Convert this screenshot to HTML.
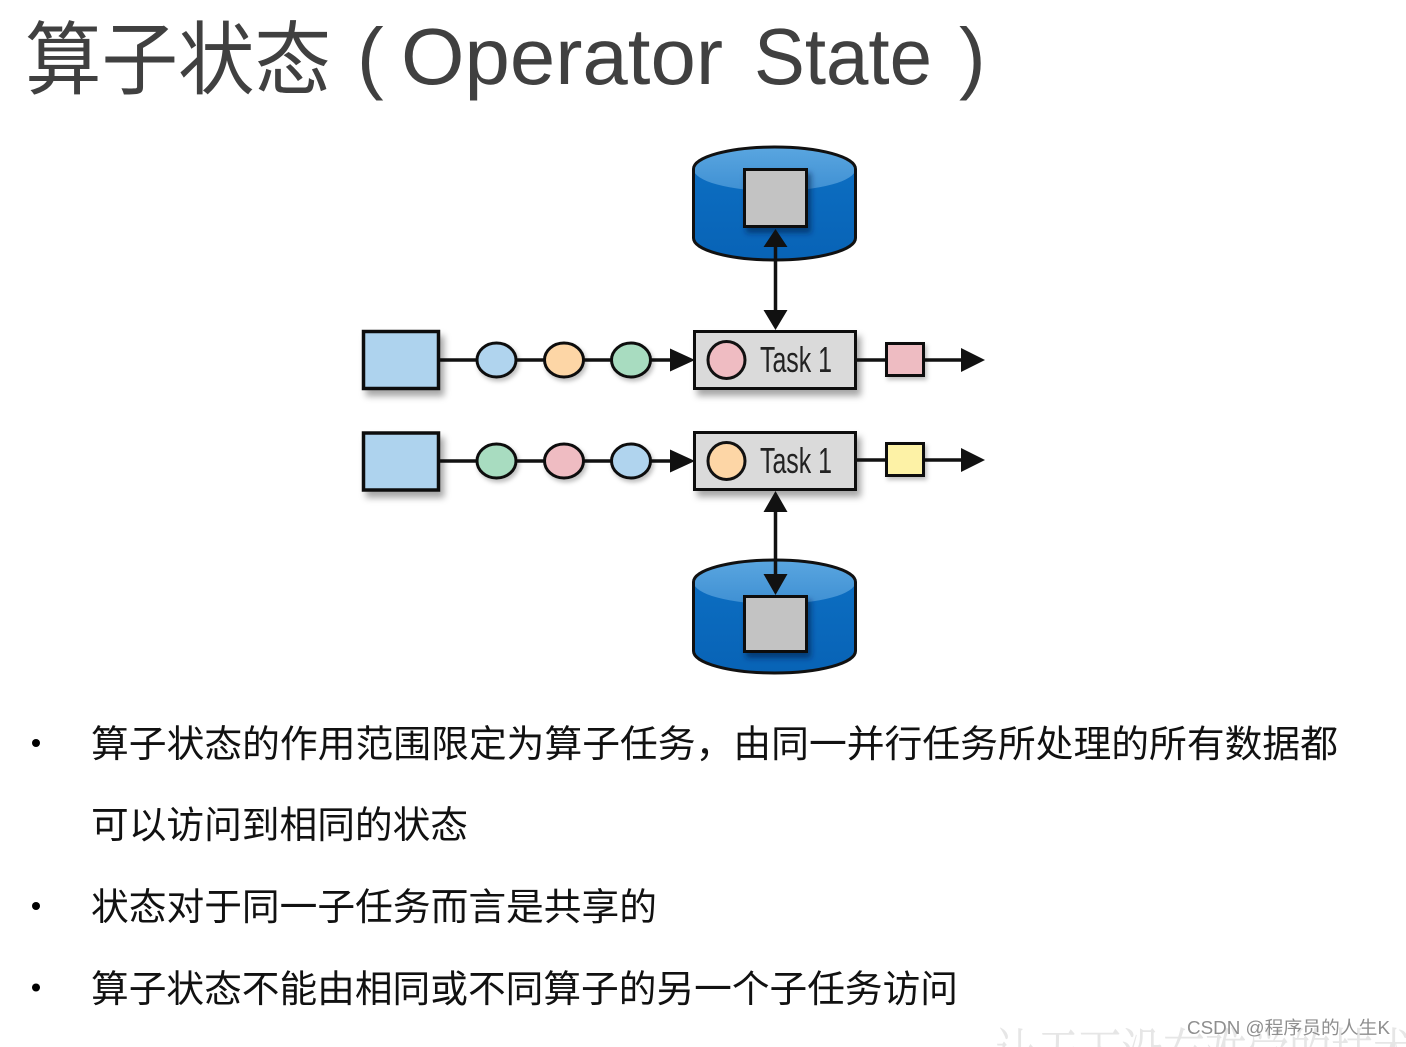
<!DOCTYPE html>
<html>
<head>
<meta charset="utf-8">
<style>
  html,body{margin:0;padding:0;background:#fff;}
  svg{display:block;}
  .cjk{font-family:"Liberation Sans","Noto Sans CJK SC",sans-serif;}
</style>
</head>
<body>
<svg width="1406" height="1047" viewBox="0 0 1406 1047" xmlns="http://www.w3.org/2000/svg">
  <defs>
    <filter id="sh" x="-30%" y="-30%" width="170%" height="180%">
      <feDropShadow dx="4" dy="6" stdDeviation="3.5" flood-color="#000" flood-opacity="0.35"/>
    </filter>
    <filter id="shs" x="-30%" y="-30%" width="170%" height="180%">
      <feDropShadow dx="2" dy="3" stdDeviation="2" flood-color="#000" flood-opacity="0.25"/>
    </filter>
    <filter id="shd" x="-30%" y="-30%" width="170%" height="180%">
      <feDropShadow dx="3" dy="5" stdDeviation="3" flood-color="#00214a" flood-opacity="0.6"/>
    </filter>
    <linearGradient id="cap" x1="0" y1="0" x2="0" y2="1">
      <stop offset="0" stop-color="#5aa6e0"/>
      <stop offset="1" stop-color="#3f90d3"/>
    </linearGradient>
    <linearGradient id="body" x1="0" y1="0" x2="0" y2="1">
      <stop offset="0" stop-color="#0d70c4"/>
      <stop offset="1" stop-color="#0863b6"/>
    </linearGradient>
  </defs>

  <!-- Title -->
  <g fill="#404040">
    <text class="cjk" x="25" y="88" font-size="80" textLength="306" lengthAdjust="spacingAndGlyphs">算子状态</text>
    <text x="357" y="84" font-family="Liberation Sans, sans-serif" font-size="80">(</text>
    <text x="401" y="84" font-family="Liberation Sans, sans-serif" font-size="80" textLength="322" lengthAdjust="spacingAndGlyphs">Operator</text>
    <text x="754" y="84" font-family="Liberation Sans, sans-serif" font-size="80" textLength="178" lengthAdjust="spacingAndGlyphs">State</text>
    <text x="959" y="84" font-family="Liberation Sans, sans-serif" font-size="80">)</text>
  </g>

  <!-- Top cylinder -->
  <g>
    <path d="M693.5,169 L693.5,238 A81,22 0 0 0 855.5,238 L855.5,169 A81,22 0 0 0 693.5,169 Z" fill="url(#body)"/>
    <ellipse cx="774.5" cy="169" rx="81" ry="22" fill="url(#cap)"/>
    <path d="M693.5,169 L693.5,238 A81,22 0 0 0 855.5,238 L855.5,169 A81,22 0 0 0 693.5,169 Z" fill="none" stroke="#111" stroke-width="3"/>
    <rect x="744.5" y="169.5" width="62" height="57" fill="#c3c3c3" stroke="#111" stroke-width="3" filter="url(#shd)"/>
  </g>
  <!-- top arrow -->
  <line x1="775.5" y1="245" x2="775.5" y2="312" stroke="#111" stroke-width="3.5"/>
  <polygon points="775.5,229 763.5,247 787.5,247" fill="#111"/>
  <polygon points="775.5,330 763.5,310 787.5,310" fill="#111"/>

  <!-- Row 1 -->
  <g>
    <line x1="440" y1="360" x2="675" y2="360" stroke="#111" stroke-width="3.5"/>
    <rect x="363.5" y="331.5" width="75" height="57" fill="#aed3ee" stroke="#111" stroke-width="3.5" filter="url(#sh)"/>
    <ellipse cx="496.5" cy="360" rx="19.5" ry="17" fill="#b0d4ee" stroke="#111" stroke-width="3" filter="url(#shs)"/>
    <ellipse cx="564" cy="360" rx="19.5" ry="17" fill="#fdd6a6" stroke="#111" stroke-width="3" filter="url(#shs)"/>
    <ellipse cx="631" cy="360" rx="19.5" ry="17" fill="#a8dcc0" stroke="#111" stroke-width="3" filter="url(#shs)"/>
    <polygon points="695,360 670,348.5 670,371.5" fill="#111"/>
    <rect x="694.5" y="331.5" width="161" height="57" fill="#dadada" stroke="#111" stroke-width="3" filter="url(#sh)"/>
    <circle cx="726.5" cy="360" r="18.5" fill="#efbcc2" stroke="#111" stroke-width="3"/>
    <text x="760" y="372" font-family="Liberation Sans Narrow, Liberation Sans, sans-serif" font-size="36" fill="#222" textLength="72" lengthAdjust="spacingAndGlyphs">Task 1</text>
    <line x1="855" y1="360" x2="965" y2="360" stroke="#111" stroke-width="3.5"/>
    <rect x="886.5" y="343.5" width="37" height="32" fill="#eebcc2" stroke="#111" stroke-width="3" filter="url(#shs)"/>
    <polygon points="985,360 961,348 961,372" fill="#111"/>
  </g>

  <!-- Row 2 -->
  <g>
    <line x1="440" y1="461" x2="675" y2="461" stroke="#111" stroke-width="3.5"/>
    <rect x="363.5" y="433" width="75" height="57" fill="#aed3ee" stroke="#111" stroke-width="3.5" filter="url(#sh)"/>
    <ellipse cx="496.5" cy="461" rx="19.5" ry="17" fill="#a8dcc0" stroke="#111" stroke-width="3" filter="url(#shs)"/>
    <ellipse cx="564" cy="461" rx="19.5" ry="17" fill="#efbcc2" stroke="#111" stroke-width="3" filter="url(#shs)"/>
    <ellipse cx="631" cy="461" rx="19.5" ry="17" fill="#b0d4ee" stroke="#111" stroke-width="3" filter="url(#shs)"/>
    <polygon points="695,461 670,449.5 670,472.5" fill="#111"/>
    <rect x="694.5" y="432.5" width="161" height="57" fill="#dadada" stroke="#111" stroke-width="3" filter="url(#sh)"/>
    <circle cx="726.5" cy="461" r="18.5" fill="#fdd6a6" stroke="#111" stroke-width="3"/>
    <text x="760" y="473" font-family="Liberation Sans Narrow, Liberation Sans, sans-serif" font-size="36" fill="#222" textLength="72" lengthAdjust="spacingAndGlyphs">Task 1</text>
    <line x1="855" y1="460" x2="965" y2="460" stroke="#111" stroke-width="3.5"/>
    <rect x="886.5" y="443.5" width="37" height="32" fill="#fdf2a6" stroke="#111" stroke-width="3" filter="url(#shs)"/>
    <polygon points="985,460 961,448 961,472" fill="#111"/>
  </g>

  <!-- bottom arrow -->
  <line x1="775.5" y1="508" x2="775.5" y2="578" stroke="#111" stroke-width="3.5"/>

  <!-- Bottom cylinder -->
  <g>
    <path d="M693.5,582 L693.5,651 A81,22 0 0 0 855.5,651 L855.5,582 A81,22 0 0 0 693.5,582 Z" fill="url(#body)"/>
    <ellipse cx="774.5" cy="582" rx="81" ry="22" fill="url(#cap)"/>
    <path d="M693.5,582 L693.5,651 A81,22 0 0 0 855.5,651 L855.5,582 A81,22 0 0 0 693.5,582 Z" fill="none" stroke="#111" stroke-width="3"/>
    <line x1="775.5" y1="560" x2="775.5" y2="578" stroke="#111" stroke-width="3.5"/>
    <rect x="744.5" y="596.5" width="62" height="55" fill="#c3c3c3" stroke="#111" stroke-width="3" filter="url(#shd)"/>
  </g>
  <polygon points="775.5,491 763.5,512 787.5,512" fill="#111"/>
  <polygon points="775.5,595 763.5,574 787.5,574" fill="#111"/>

  <!-- Bullets -->
  <g fill="#000">
    <circle cx="36" cy="743" r="4"/>
    <circle cx="36" cy="906" r="4"/>
    <circle cx="36" cy="987.5" r="4"/>
  </g>
  <g class="cjk" font-size="37.7" fill="#111">
    <text x="91" y="757" textLength="1247" lengthAdjust="spacingAndGlyphs">算子状态的作用范围限定为算子任务，由同一并行任务所处理的所有数据都</text>
    <text x="91" y="838" textLength="377" lengthAdjust="spacingAndGlyphs">可以访问到相同的状态</text>
    <text x="91" y="920" textLength="566" lengthAdjust="spacingAndGlyphs">状态对于同一子任务而言是共享的</text>
    <text x="91" y="1002" textLength="867" lengthAdjust="spacingAndGlyphs">算子状态不能由相同或不同算子的另一个子任务访问</text>
  </g>

  <!-- faint background watermark -->
  <text x="995" y="1078" font-family="Liberation Serif, Noto Serif CJK SC, serif" font-size="60" fill="#e6e6e6" textLength="420" lengthAdjust="spacingAndGlyphs">让天下没有难学的技术</text>

  <!-- CSDN watermark -->
  <text x="1187" y="1034" font-family="Liberation Sans, Noto Sans CJK SC, sans-serif" font-size="18" fill="#8f8f8f" textLength="203" lengthAdjust="spacingAndGlyphs">CSDN @程序员的人生K</text>
</svg>
</body>
</html>
